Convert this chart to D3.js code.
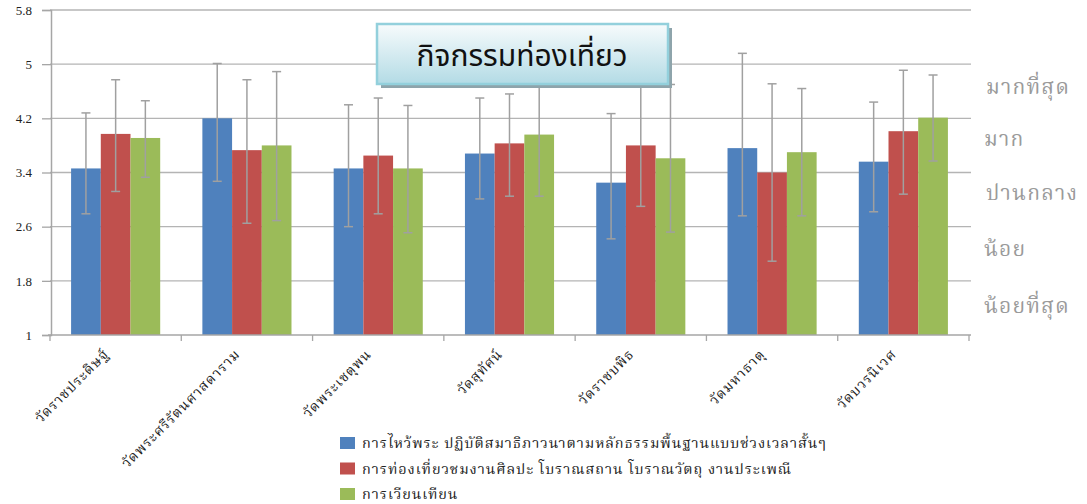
<!DOCTYPE html>
<html>
<head>
<meta charset="utf-8">
<script src="https://cdn.jsdelivr.net/npm/d3@7"></script>
<style>
  body { margin: 0; background: #fff; }
  svg { display: block; }
</style>
</head>
<body>
<svg id="chart" width="1087" height="504"></svg>
<script>
// ข้อมูล
var categories = ["วัดราชประดิษฐ์", "วัดพระศรีรัตนศาสดาราม", "วัดพระเชตุพน", "วัดสุทัศน์", "วัดราชบพิธ", "วัดมหาธาตุ", "วัดบวรนิเวศ"];
var seriesNames = [
  "การไหว้พระ ปฏิบัติสมาธิภาวนาตามหลักธรรมพื้นฐานแบบช่วงเวลาสั้นๆ",
  "การท่องเที่ยวชมงานศิลปะ โบราณสถาน โบราณวัตถุ งานประเพณี",
  "การเวียนเทียน"
];
var colors = ["#4f81bd", "#c0504d", "#9bbb59"];

// ค่าเฉลี่ย
var meanS1 = [3.46, 4.20, 3.46, 3.68, 3.25, 3.76, 3.56];
var meanS2 = [3.97, 3.73, 3.65, 3.83, 3.80, 3.40, 4.01];
var meanS3 = [3.91, 3.80, 3.46, 3.96, 3.61, 3.70, 4.21];
// ปลาย error bar (บน / ล่าง)
var upS1 = [4.28, 5.01, 4.40, 4.50, 4.27, 5.16, 4.44];
var loS1 = [2.79, 3.27, 2.60, 3.01, 2.42, 2.76, 2.82];
var upS2 = [4.77, 4.77, 4.50, 4.56, 4.75, 4.71, 4.91];
var loS2 = [3.12, 2.65, 2.79, 3.05, 2.90, 2.09, 3.08];
var upS3 = [4.46, 4.89, 4.39, 4.85, 4.70, 4.64, 4.84];
var loS3 = [3.33, 2.69, 2.51, 3.05, 2.52, 2.76, 3.57];

var yTicks = [1, 1.8, 2.6, 3.4, 4.2, 5, 5.8];
var levelLabels = ["มากที่สุด", "มาก", "ปานกลาง", "น้อย", "น้อยที่สุด"];
var title = "กิจกรรมท่องเที่ยว";

var means = [meanS1, meanS2, meanS3];
var ups = [upS1, upS2, upS3];
var los = [loS1, loS2, loS3];

var thaiFont = "'Noto Serif Thai', 'Noto Sans Thai', Garuda, Loma, 'Liberation Serif', serif";

var svg = d3.select("#chart");
var pLeft = 50, pRight = 969, pTop = 10, pBottom = 335;

var x0 = d3.scaleBand().domain(categories).range([pLeft, pRight]).padding(0);
var x1 = d3.scaleBand().domain([0, 1, 2]).range([0, x0.bandwidth()]).paddingInner(0).paddingOuter(0.71);
var y = d3.scaleLinear().domain([1, 5.8]).range([pBottom, pTop]);

// เส้นกริด
svg.append("g").selectAll("line")
  .data(yTicks.slice(1)).enter()
  .append("line")
  .attr("x1", pLeft).attr("x2", pRight + 2)
  .attr("y1", function(d){ return y(d); })
  .attr("y2", function(d){ return y(d); })
  .attr("stroke", "#b4b4b4")
  .attr("stroke-width", 1.3);

// แกน y
var yAxis = svg.append("g")
  .attr("transform", "translate(" + (pLeft + 1) + ",0)")
  .call(d3.axisLeft(y).tickValues(yTicks).tickSize(9).tickPadding(10).tickFormat(function(d){ return d; }));
yAxis.select(".domain").attr("stroke", "#a6a6a6").attr("stroke-width", 1.5);
yAxis.selectAll(".tick line").attr("stroke", "#a6a6a6").attr("stroke-width", 1.3);
yAxis.selectAll(".tick text")
  .attr("fill", "#222")
  .style("font-family", "'Liberation Serif', serif")
  .style("font-size", "13px");

// แท่ง
var groups = svg.append("g").selectAll("g")
  .data(categories).enter()
  .append("g")
  .attr("transform", function(d){ return "translate(" + x0(d) + ",0)"; });

[0, 1, 2].forEach(function(s){
  groups.append("rect")
    .attr("x", x1(s))
    .attr("width", x1.bandwidth())
    .attr("y", function(d, i){ return y(means[s][i]); })
    .attr("height", function(d, i){ return y(1) - y(means[s][i]); })
    .attr("fill", colors[s]);
});

// error bars
[0, 1, 2].forEach(function(s){
  var cx = x1(s) + x1.bandwidth() / 2;
  groups.append("line")
    .attr("x1", cx).attr("x2", cx)
    .attr("y1", function(d, i){ return y(ups[s][i]); })
    .attr("y2", function(d, i){ return y(los[s][i]); })
    .attr("stroke", "#a0a0a0").attr("stroke-width", 1.5);
  groups.append("line")
    .attr("x1", cx - 4.5).attr("x2", cx + 4.5)
    .attr("y1", function(d, i){ return y(ups[s][i]); })
    .attr("y2", function(d, i){ return y(ups[s][i]); })
    .attr("stroke", "#a0a0a0").attr("stroke-width", 1.5);
  groups.append("line")
    .attr("x1", cx - 4.5).attr("x2", cx + 4.5)
    .attr("y1", function(d, i){ return y(los[s][i]); })
    .attr("y2", function(d, i){ return y(los[s][i]); })
    .attr("stroke", "#a0a0a0").attr("stroke-width", 1.5);
});

// แกน x
svg.append("line")
  .attr("x1", pLeft - 2).attr("x2", pRight + 2)
  .attr("y1", pBottom).attr("y2", pBottom)
  .attr("stroke", "#a6a6a6").attr("stroke-width", 1.5);
var bounds = categories.map(function(c){ return x0(c); }).concat([pRight]);
svg.append("g").selectAll("line")
  .data(bounds).enter()
  .append("line")
  .attr("x1", function(d){ return d; }).attr("x2", function(d){ return d; })
  .attr("y1", pBottom).attr("y2", pBottom + 6)
  .attr("stroke", "#a6a6a6").attr("stroke-width", 1.3);

svg.append("g").selectAll("text")
  .data(categories).enter()
  .append("text")
  .attr("transform", function(d){
    var cx = x0(d) + x0.bandwidth() / 2;
    return "translate(" + (cx - 6) + "," + (pBottom + 20) + ") rotate(-45)";
  })
  .attr("text-anchor", "end")
  .attr("fill", "#222")
  .style("font-family", thaiFont)
  .style("font-size", "14px")
  .style("letter-spacing", "0.9px")
  .text(function(d){ return d; });

// ป้ายระดับด้านขวา
var levelY = [87, 139, 193, 249, 306];
var levelX = [986, 984, 986, 984, 984];
svg.append("g").selectAll("text")
  .data(levelLabels).enter()
  .append("text")
  .attr("x", function(d, i){ return levelX[i]; })
  .attr("y", function(d, i){ return levelY[i]; })
  .attr("dy", "0.35em")
  .attr("fill", "#9a9a9a")
  .style("font-family", thaiFont)
  .style("font-size", "21px")
  .style("letter-spacing", "1.2px")
  .text(function(d){ return d; });

// กล่องชื่อกราฟ
var defs = svg.append("defs");
var grad = defs.append("linearGradient").attr("id", "titleGrad")
  .attr("x1", 0).attr("y1", 0).attr("x2", 0).attr("y2", 1);
grad.append("stop").attr("offset", "0%").attr("stop-color", "#f7fbfc");
grad.append("stop").attr("offset", "100%").attr("stop-color", "#b3dbe5");

svg.append("rect")
  .attr("x", 381).attr("y", 28).attr("width", 291).attr("height", 60)
  .attr("fill", "#8ea4ab");
svg.append("rect")
  .attr("x", 377).attr("y", 24).attr("width", 291).attr("height", 60)
  .attr("fill", "url(#titleGrad)")
  .attr("stroke", "#93d0dc").attr("stroke-width", 2.5);
svg.append("text")
  .attr("x", 522).attr("y", 55)
  .attr("dy", "0.35em")
  .attr("text-anchor", "middle")
  .attr("fill", "#111")
  .style("font-family", "'Noto Sans Thai', 'Noto Sans', Loma, sans-serif")
  .style("font-size", "30px")
  .text(title);

// คำอธิบาย
var legend = svg.append("g").selectAll("g")
  .data(seriesNames).enter()
  .append("g")
  .attr("transform", function(d, i){ return "translate(340," + (443 + i * 25.5) + ")"; });
legend.append("rect")
  .attr("x", 0).attr("y", -6).attr("width", 15).attr("height", 12)
  .attr("fill", function(d, i){ return colors[i]; });
legend.append("text")
  .attr("x", 22).attr("y", 0).attr("dy", "0.35em")
  .attr("fill", "#222")
  .style("font-family", thaiFont)
  .style("font-size", "14.5px")
  .style("letter-spacing", "0.9px")
  .text(function(d){ return d; });
</script>
</body>
</html>
